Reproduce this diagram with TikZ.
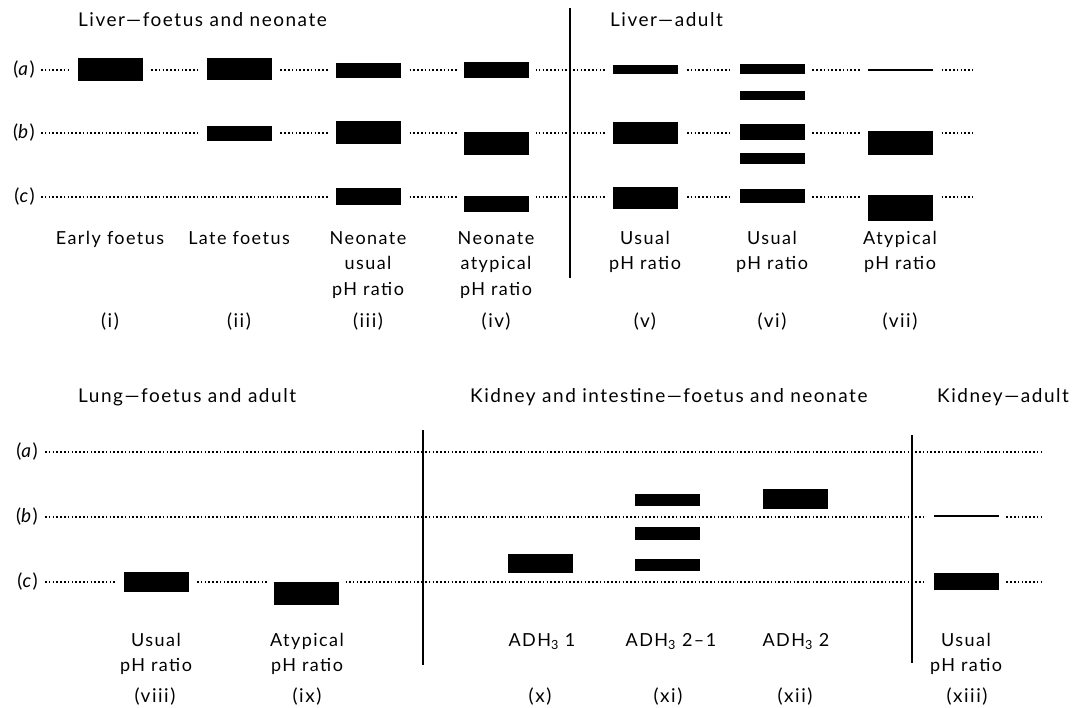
\documentclass[tikz,border=0pt]{standalone}
\usepackage{fontspec}
\setmainfont[LetterSpace=8]{Lato}
\usepackage{tikz}
\usetikzlibrary{positioning}
\definecolor{black}{gray}{0}

% Stile fuer Balken, Punktlinien und Beschriftungen
\tikzset{
  bande/.style={fill=black, inner sep=0pt, outer sep=0pt, minimum width=65pt,
    preaction={draw=white, line width=14pt}},
  freiband/.style={fill=black, inner sep=0pt, outer sep=0pt, minimum width=65pt},
  punkte/.style={line width=1.5pt, dash pattern=on 1.5pt off 2.3pt},
  zeile/.style={anchor=east, inner sep=0pt, font=\fontsize{19}{20}\selectfont},
  titel/.style={anchor=base west, inner sep=0pt, font=\fontsize{19}{22}\selectfont},
  beschr/.style={anchor=north, inner sep=0pt, align=center, font=\fontsize{18}{25.5}\selectfont},
  nummer/.style={anchor=base, inner sep=0pt, font=\fontsize{19}{20}\selectfont},
  trenn/.style={line width=1.3pt}
}

\begin{document}
\begin{tikzpicture}[x=1pt, y=-1pt, >=latex]
\useasboundingbox (0,0) rectangle (1073,708);

% Ueberschriften
\node[titel] (t1) at (78,27) {Liver—foetus and neonate};
\node[titel] (t2) at (610,27) {Liver—adult};
\node[titel] (t3) at (78,402) {Lung—foetus and adult};
\node[titel] (t4) at (470,402) {Kidney and intestine—foetus and neonate};
\node[titel] (t5) at (937,402) {Kidney—adult};

% Zeilen (a)-(c) oben
\foreach \z/\y in {a/70,b/133,c/197}{
  \node[zeile] (o\z) at (35,\y) {(\textit{\z})};
  \coordinate (oe\z) at (973,\y);
  \draw[punkte] ([xshift=6pt]o\z.east) -- (oe\z);
}
% Zeilen (a)-(c) unten
\foreach \z/\y in {a/452,b/517,c/582}{
  \node[zeile] (u\z) at (38,\y) {(\textit{\z})};
  \coordinate (ue\z) at (1041,\y);
  \draw[punkte] ([xshift=7pt]u\z.east) -- (ue\z);
}

% Balken Leber
\foreach \n/\x/\yo/\yu in {ia/110/58/81, iia/239/58/80, iib/239/126/141,
    iiia/368/63/78, iiib/368/121/144, iiic/368/188/205,
    iva/496/62/78, ivb/496/132/155, ivc/496/196/212,
    va/645/65/74, vb/645/122/144, vc/645/187/209,
    via/772/64/74, vib1/772/91/100, vib/772/124/140, vic1/772/153/164, vic/772/189/203,
    viia/900/69/71, viib/900/131/155, viic/900/195/221}
  \node[bande, minimum height={(\yu-\yo)*1pt}] (\n) at (\x,{(\yo+\yu)/2}) {};

% Balken Lunge und Niere
\foreach \n/\x/\yo/\yu in {viiic/156/572/592, ixc/306/582/605,
    xiiib/966/515/517, xiiic/966/573/590}
  \node[bande, minimum height={(\yu-\yo)*1pt}] (\n) at (\x,{(\yo+\yu)/2}) {};
\foreach \n/\x/\yo/\yu in {x/540/554/573, xia/667/494/506, xib/667/527/540,
    xic/667/559/571, xii/795/489/509}
  \node[freiband, minimum height={(\yu-\yo)*1pt}] (\n) at (\x,{(\yo+\yu)/2}) {};

% Beschriftungen oben
\foreach \n/\x/\t in {i/110/{Early foetus}, ii/239/{Late foetus},
    iii/368/{Neonate\\usual\\pH ratio}, iv/496/{Neonate\\atypical\\pH ratio},
    v/645/{Usual\\pH ratio}, vi/772/{Usual\\pH ratio}, vii/900/{Atypical\\pH ratio}}{
  \node[beschr] (b\n) at (\x,231) {\t};
  \node[nummer] (n\n) at (\x,328) {(\n)};
}
% Beschriftungen unten
\foreach \n/\x/\t in {viii/156/{Usual\\pH ratio}, ix/307/{Atypical\\pH ratio},
    x/542/{ADH\textsubscript{3} 1}, xi/671/{ADH\textsubscript{3} 2–1},
    xii/796/{ADH\textsubscript{3} 2}, xiii/966/{Usual\\pH ratio}}{
  \node[beschr] (b\n) at (\x,633) {\t};
}
\foreach \n/\x in {viii/155, ix/307, x/540, xi/668, xii/795, xiii/967}
  \node[nummer] (n\n) at (\x,702) {(\n)};

% Trennlinien
\draw[trenn] (570,8) -- (570,278);
\draw[trenn] (423,430) -- (423,665);
\draw[trenn] (912,435) -- (912,663);
\end{tikzpicture}
\end{document}
